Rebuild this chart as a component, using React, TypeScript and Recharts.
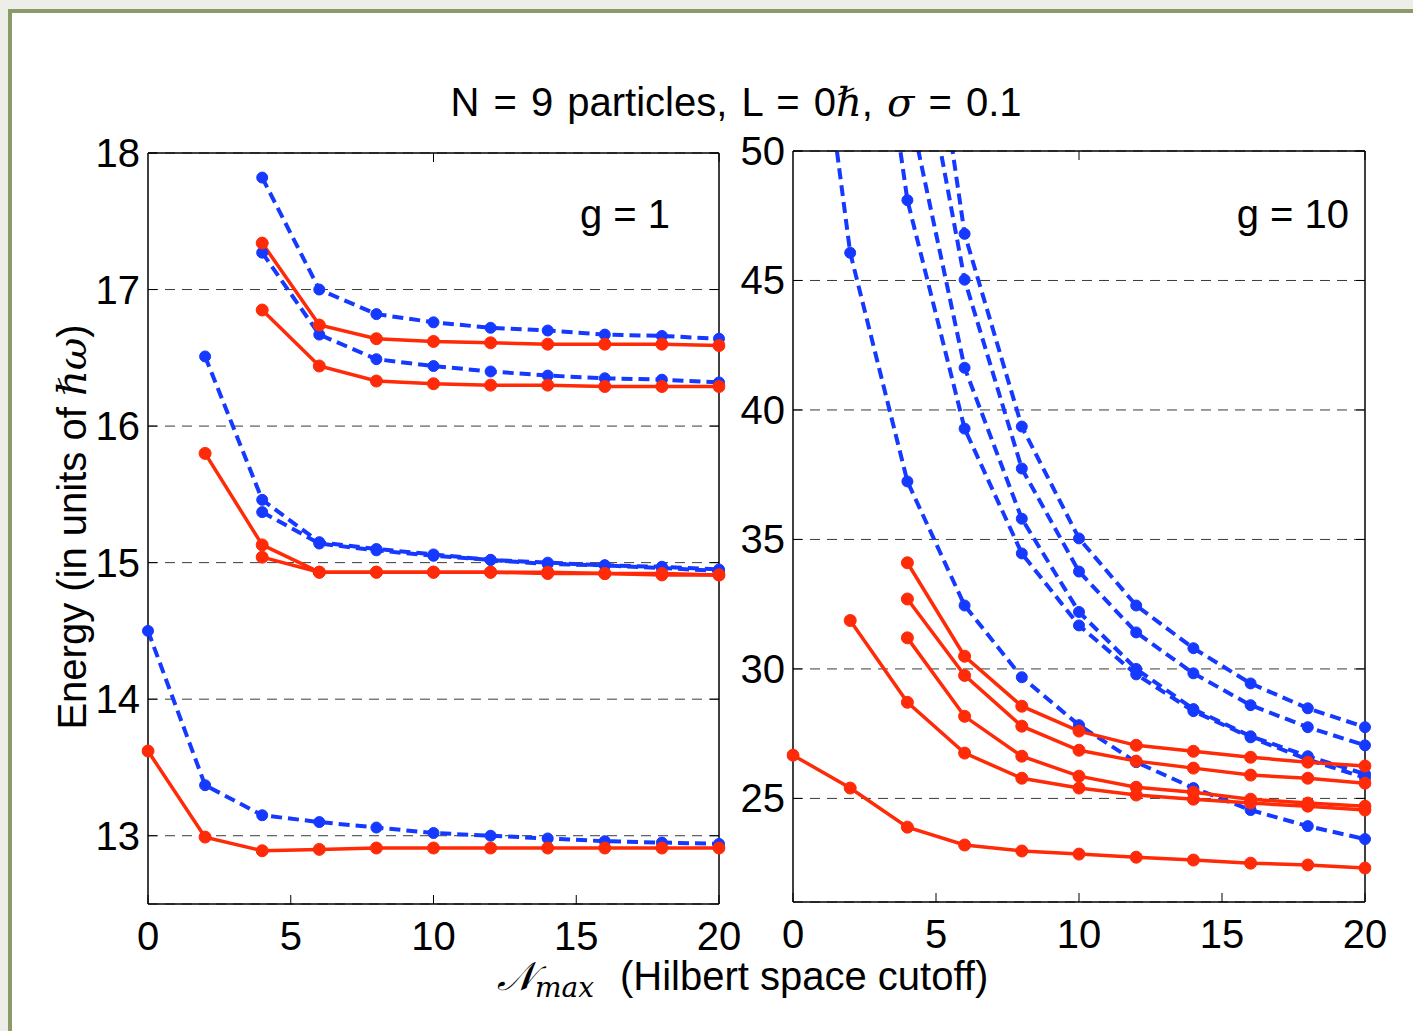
import React from "react";
import { LineChart, Line, XAxis, YAxis, CartesianGrid } from "recharts";

// Hilbert space cutoff values (x axis, both panels)
const XS = [0, 2, 4, 6, 8, 10, 12, 14, 16, 18, 20];

// g = 1 panel, exact diagonalisation (blue dashed)
const g1Blue1 = [14.5, 13.37, 13.15, 13.1, 13.06, 13.02, 13.0, 12.98, 12.96, 12.95, 12.94];
const g1Blue2 = [null, 16.51, 15.46, 15.15, 15.1, 15.06, 15.02, 15.0, 14.98, 14.97, 14.95];
const g1Blue3 = [null, null, 15.37, 15.14, 15.09, 15.05, 15.02, 14.99, 14.98, 14.96, 14.94];
const g1Blue4 = [null, null, 17.82, 17.0, 16.82, 16.76, 16.72, 16.7, 16.67, 16.66, 16.64];
const g1Blue5 = [null, null, 17.27, 16.67, 16.49, 16.44, 16.4, 16.37, 16.35, 16.34, 16.32];

// g = 1 panel, effective interaction (red solid)
const g1Red1 = [13.62, 12.99, 12.89, 12.9, 12.91, 12.91, 12.91, 12.91, 12.91, 12.91, 12.91];
const g1Red2 = [null, 15.8, 15.13, 14.93, 14.93, 14.93, 14.93, 14.93, 14.92, 14.92, 14.91];
const g1Red3 = [null, null, 15.04, 14.93, 14.93, 14.93, 14.93, 14.92, 14.92, 14.91, 14.91];
const g1Red4 = [null, null, 17.34, 16.74, 16.64, 16.62, 16.61, 16.6, 16.6, 16.6, 16.59];
const g1Red5 = [null, null, 16.85, 16.44, 16.33, 16.31, 16.3, 16.3, 16.29, 16.29, 16.29];

// g = 10 panel, blue dashed
const g10Blue1 = [63.0, 46.07, 37.24, 32.45, 29.68, 27.83, 26.4, 25.4, 24.55, 23.93, 23.43];
const g10Blue2 = [null, 63.6, 48.1, 39.28, 34.46, 31.68, 29.79, 28.37, 27.36, 26.5, 25.8];
const g10Blue3 = [null, null, 52.0, 41.63, 35.8, 32.2, 30.0, 28.45, 27.4, 26.63, 25.94];
const g10Blue4 = [null, null, 56.9, 45.03, 37.74, 33.76, 31.41, 29.83, 28.6, 27.75, 27.05];
const g10Blue5 = [null, null, 62.0, 46.8, 39.36, 35.04, 32.45, 30.8, 29.44, 28.48, 27.75];

// g = 10 panel, red solid
const g10Red1 = [26.67, 25.4, 23.89, 23.2, 22.97, 22.85, 22.73, 22.62, 22.5, 22.43, 22.31];
const g10Red2 = [null, 31.87, 28.71, 26.75, 25.78, 25.4, 25.13, 24.97, 24.82, 24.7, 24.55];
const g10Red3 = [null, null, 34.1, 30.49, 28.56, 27.6, 27.05, 26.82, 26.59, 26.4, 26.25];
const g10Red4 = [null, null, 32.7, 29.75, 27.79, 26.86, 26.44, 26.17, 25.9, 25.78, 25.59];
const g10Red5 = [null, null, 31.2, 28.17, 26.63, 25.86, 25.43, 25.24, 24.97, 24.82, 24.7];

const X_TICKS = [0, 5, 10, 15, 20];
const X_TOP_TICKS = [5, 10, 15];
const G1_TICKS = [13, 14, 15, 16, 17, 18];
const G10_TICKS = [25, 30, 35, 40, 45, 50];

const BLUE = "#1539ff";
const RED = "#ff2a08";
const FONT = "'Liberation Sans', Arial, Helvetica, sans-serif";
const MATH = "'DejaVu Serif', 'Liberation Serif', serif";
const GAP = 10;
const TICK_LEN = 9;

function buildRows(series: Record<string, (number | null)[]>) {
  return XS.map((x, i) => {
    const row: Record<string, number | null> = { x };
    Object.keys(series).forEach((k) => {
      row[k] = series[k][i];
    });
    return row;
  });
}

const g1Rows = buildRows({
  b1: g1Blue1, b2: g1Blue2, b3: g1Blue3, b4: g1Blue4, b5: g1Blue5,
  r1: g1Red1, r2: g1Red2, r3: g1Red3, r4: g1Red4, r5: g1Red5,
});
const g10Rows = buildRows({
  b1: g10Blue1, b2: g10Blue2, b3: g10Blue3, b4: g10Blue4, b5: g10Blue5,
  r1: g10Red1, r2: g10Red2, r3: g10Red3, r4: g10Red4, r5: g10Red5,
});

const BLUE_KEYS = ["b1", "b2", "b3", "b4", "b5"];
const RED_KEYS = ["r1", "r2", "r3", "r4", "r5"];

// ticks point inwards, MATLAB style
function BottomTick({ x, y, payload }: any) {
  const ay = y - GAP;
  return (
    <g>
      <line x1={x} x2={x} y1={ay} y2={ay - TICK_LEN} stroke="#000" strokeWidth={1} />
      <text x={x} y={ay + 46} textAnchor="middle" fontSize={40} fontFamily={FONT} fill="#000">
        {payload.value}
      </text>
    </g>
  );
}

function TopTick({ x, y }: any) {
  const ay = y + GAP;
  return <line x1={x} x2={x} y1={ay} y2={ay + TICK_LEN} stroke="#000" strokeWidth={1} />;
}

function LeftTick({ x, y, payload }: any) {
  const ax = x + GAP;
  return (
    <g>
      <line x1={ax} x2={ax + TICK_LEN} y1={y} y2={y} stroke="#000" strokeWidth={1} />
      <text x={ax - 8} y={y + 14} textAnchor="end" fontSize={40} fontFamily={FONT} fill="#000">
        {payload.value}
      </text>
    </g>
  );
}

function RightTick({ x, y }: any) {
  const ax = x - GAP;
  return <line x1={ax} x2={ax - TICK_LEN} y1={y} y2={y} stroke="#000" strokeWidth={1} />;
}

interface PanelProps {
  rows: Record<string, number | null>[];
  domain: [number, number];
  ticks: number[];
  width: number;
  height: number;
  top: number;
  right: number;
  yAxisWidth: number;
}

function Panel({ rows, domain, ticks, width, height, top, right, yAxisWidth }: PanelProps) {
  const axisLine = { stroke: "#000", strokeWidth: 1.5 };
  return (
    <LineChart width={width} height={height} data={rows} margin={{ top, right, bottom: 0, left: 0 }}>
      <CartesianGrid horizontal vertical={false} stroke="#3a3a3a" strokeWidth={1} strokeDasharray="10 7" />
      <XAxis
        dataKey="x"
        type="number"
        domain={[0, 20]}
        ticks={X_TICKS}
        allowDataOverflow
        height={60}
        tickSize={0}
        tickMargin={GAP}
        tickLine={false}
        axisLine={axisLine}
        tick={<BottomTick />}
        interval={0}
      />
      <XAxis
        xAxisId="top"
        orientation="top"
        type="number"
        domain={[0, 20]}
        ticks={X_TOP_TICKS}
        allowDataOverflow
        height={1}
        tickSize={0}
        tickMargin={GAP}
        tickLine={false}
        axisLine={axisLine}
        tick={<TopTick />}
        interval={0}
      />
      <YAxis
        type="number"
        domain={domain}
        ticks={ticks}
        allowDataOverflow
        width={yAxisWidth}
        tickSize={0}
        tickMargin={GAP}
        tickLine={false}
        axisLine={axisLine}
        tick={<LeftTick />}
        interval={0}
      />
      <YAxis
        yAxisId="right"
        orientation="right"
        type="number"
        domain={domain}
        ticks={ticks}
        allowDataOverflow
        width={1}
        tickSize={0}
        tickMargin={GAP}
        tickLine={false}
        axisLine={axisLine}
        tick={<RightTick />}
        interval={0}
      />
      {BLUE_KEYS.map((k) => (
        <Line
          key={k}
          dataKey={k}
          type="linear"
          stroke={BLUE}
          strokeWidth={4}
          strokeDasharray="11 6"
          dot={{ r: 5.5, fill: BLUE, stroke: BLUE, strokeWidth: 1, strokeDasharray: "none", clipDot: false }}
          activeDot={false}
          isAnimationActive={false}
        />
      ))}
      {RED_KEYS.map((k) => (
        <Line
          key={k}
          dataKey={k}
          type="linear"
          stroke={RED}
          strokeWidth={3.5}
          dot={{ r: 6, fill: RED, stroke: RED, strokeWidth: 1, clipDot: false }}
          activeDot={false}
          isAnimationActive={false}
        />
      ))}
    </LineChart>
  );
}

export default function App() {
  return (
    <div style={{ position: "relative", width: 1413, height: 1031, overflow: "hidden", background: "#eeeee9" }}>
      <style>{`body{margin:0}`}</style>
      <div
        style={{
          position: "absolute",
          left: 8,
          top: 9,
          width: 1500,
          height: 1100,
          background: "#fff",
          borderLeft: "4px solid #8b9a6b",
          borderTop: "4px solid #8b9a6b",
        }}
      />
      <div style={{ position: "absolute", left: 0, top: 0 }}>
        <Panel rows={g1Rows} domain={[12.5, 18]} ticks={G1_TICKS} width={769} height={964} top={152} right={49} yAxisWidth={148} />
      </div>
      <div style={{ position: "absolute", left: 729, top: 0 }}>
        <Panel rows={g10Rows} domain={[21, 50]} ticks={G10_TICKS} width={676} height={962} top={150} right={39} yAxisWidth={64} />
      </div>
      <svg width={1413} height={1031} style={{ position: "absolute", left: 0, top: 0, pointerEvents: "none" }}>
        <text x={736} y={116} textAnchor="middle" fontSize={40} wordSpacing={3} fontFamily={FONT} fill="#000">
          N = 9 particles, L = 0<tspan fontFamily={MATH} fontStyle="italic">ℏ</tspan>,{" "}
          <tspan fontFamily={MATH} fontStyle="italic">σ</tspan> = 0.1
        </text>
        <text x={670} y={228} textAnchor="end" fontSize={40} fontFamily={FONT} fill="#000">
          g = 1
        </text>
        <text x={1349} y={228} textAnchor="end" fontSize={40} fontFamily={FONT} fill="#000">
          g = 10
        </text>
        <text x={497} y={990} fontSize={40} fontFamily={FONT} fill="#000">
          <tspan fontFamily={MATH} fontStyle="italic" fontSize={40}>𝒩</tspan>
          <tspan fontFamily={MATH} fontStyle="italic" fontSize={28} dy={7}>max</tspan>
          <tspan x={620} dy={-7}>(Hilbert space cutoff)</tspan>
        </text>
        <text
          x={86}
          y={527}
          transform="rotate(-90 86 527)"
          textAnchor="middle"
          fontSize={40}
          fontFamily={FONT}
          fill="#000"
        >
          Energy (in units of <tspan fontFamily={MATH} fontStyle="italic">ℏω</tspan>)
        </text>
      </svg>
    </div>
  );
}
